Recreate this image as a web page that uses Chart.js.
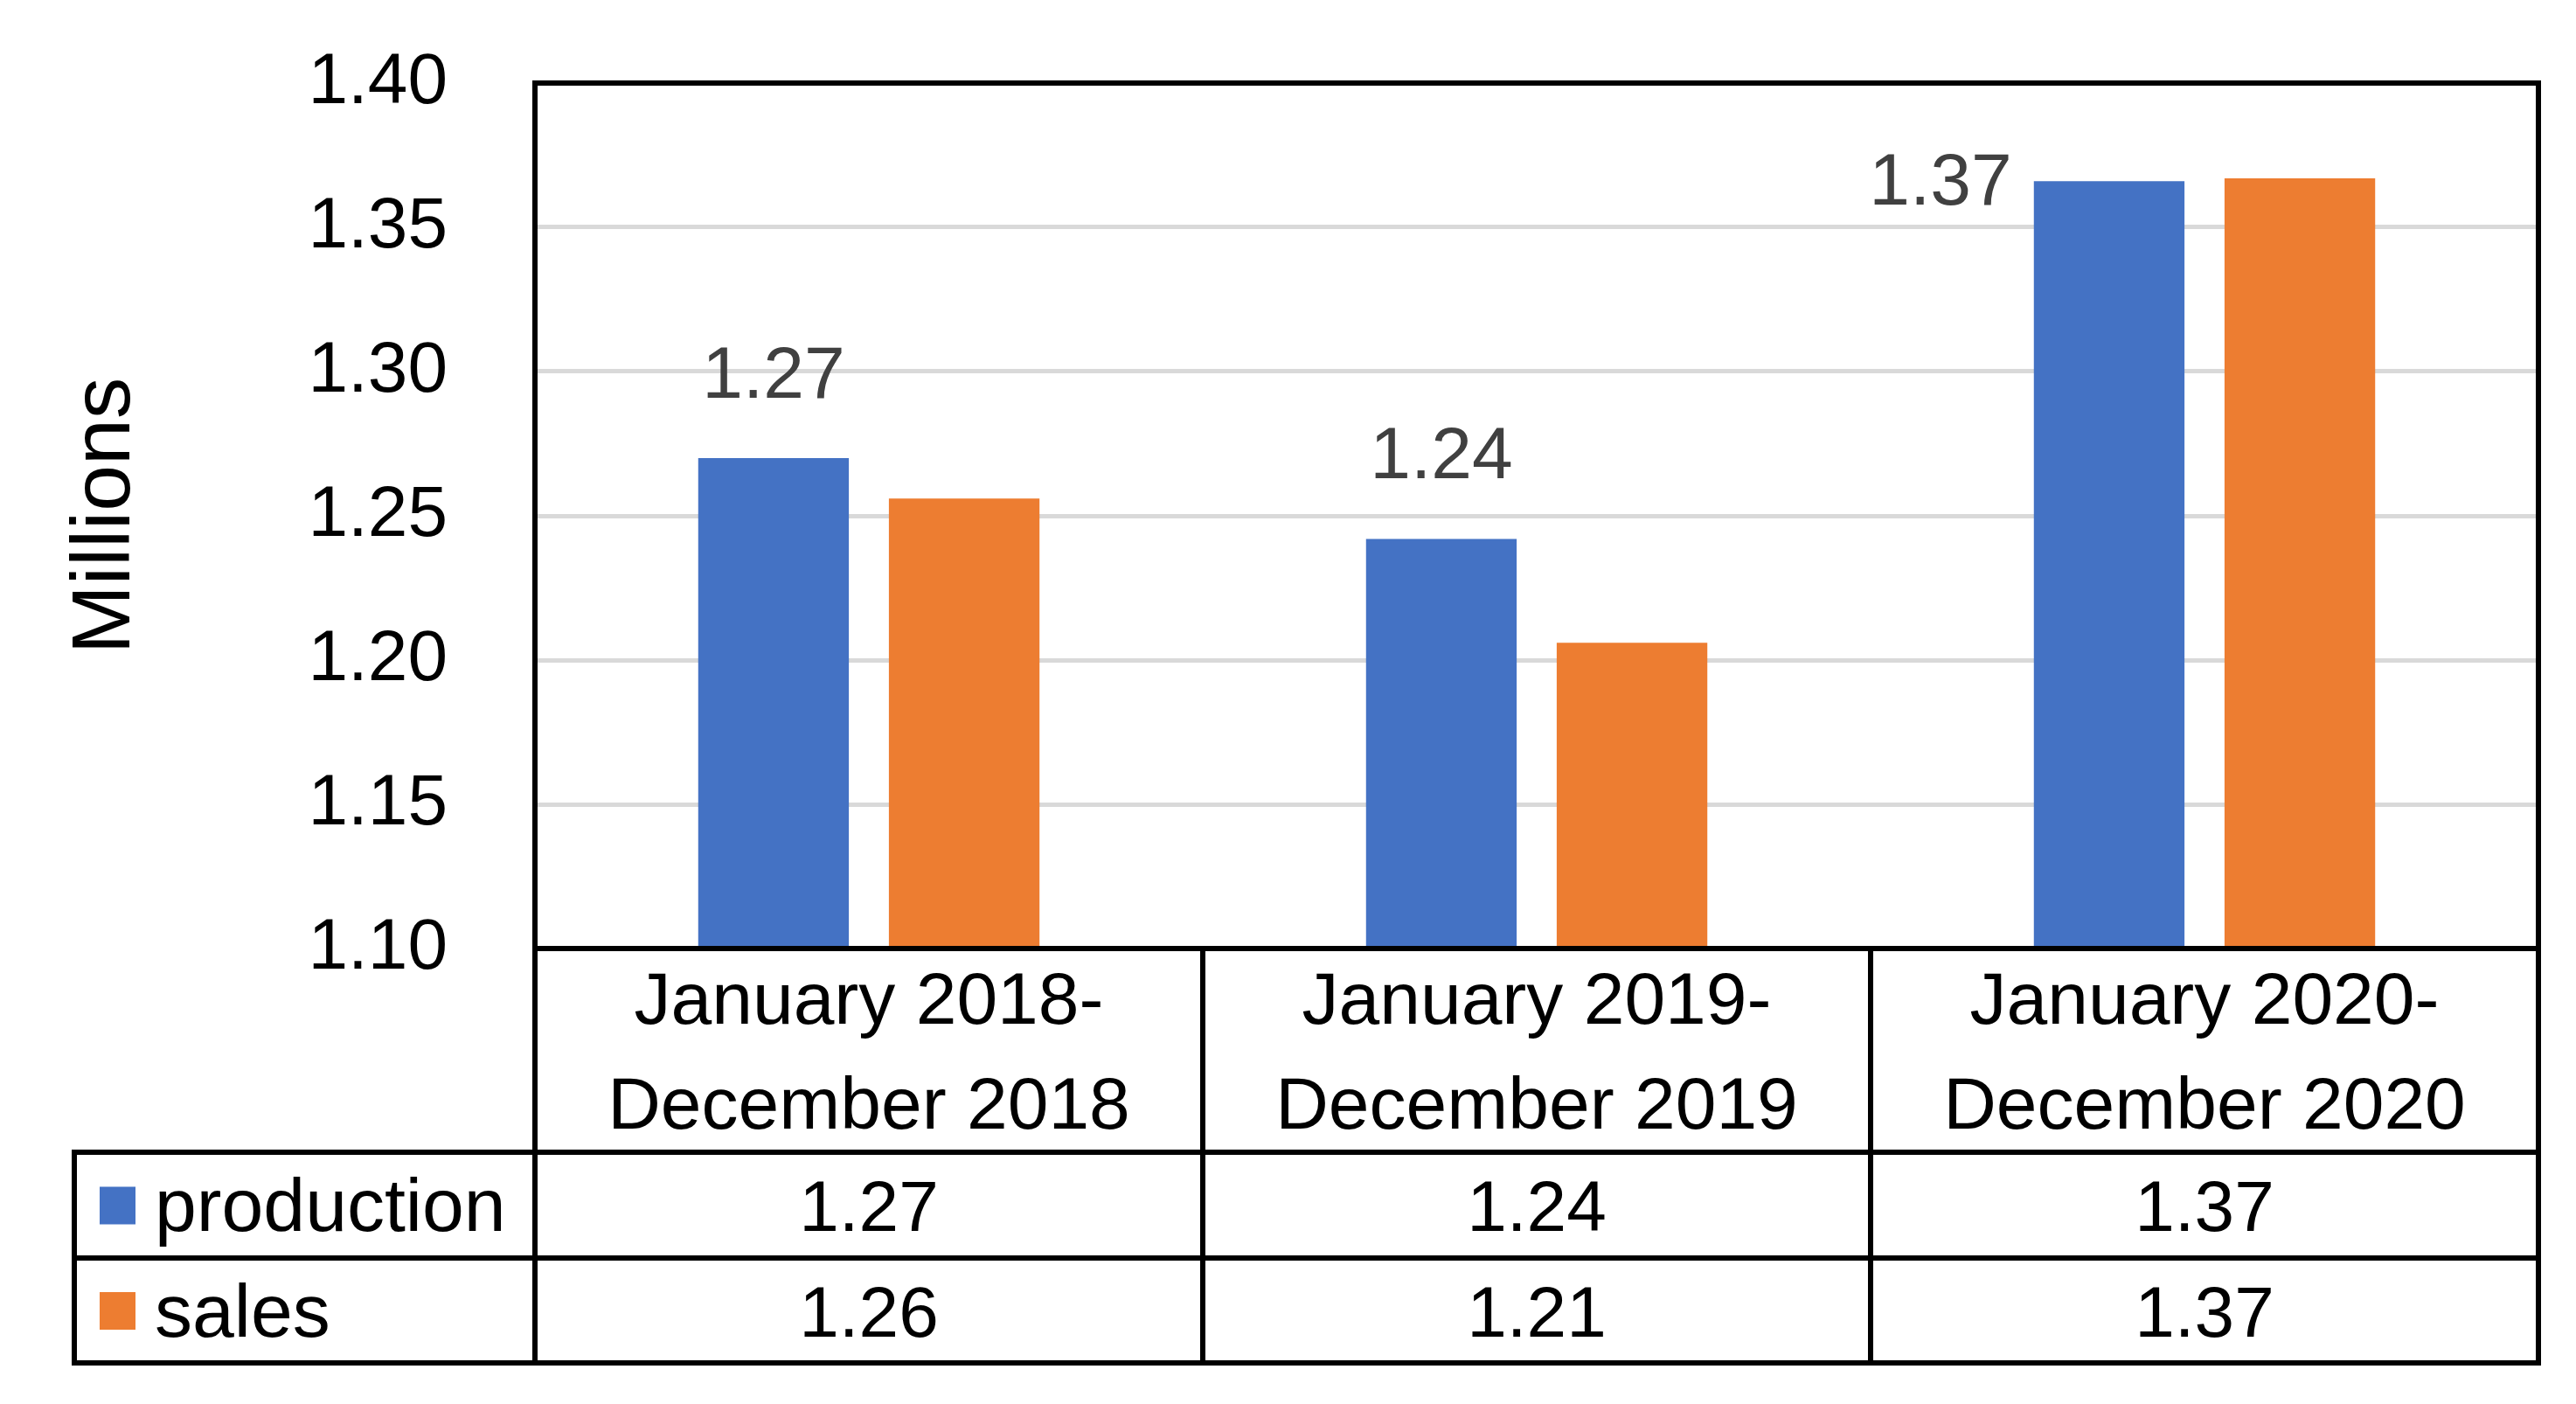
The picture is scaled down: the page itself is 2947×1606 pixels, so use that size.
<!DOCTYPE html>
<html>
<head>
<meta charset="utf-8">
<script src="https://cdn.jsdelivr.net/npm/chart.js@4.4.0/dist/chart.umd.min.js"></script>
<style>
    html, body { margin: 0; padding: 0; background: #fff; }
    canvas { display: block; }
</style>
</head>
<body>
<canvas id="myChart" width="2947" height="1606" style="width:2947px;height:1606px"></canvas>
<script>
// Datos
const periodos = [
    ['January 2018-', 'December 2018'],
    ['January 2019-', 'December 2019'],
    ['January 2020-', 'December 2020']
];
const produccion = [1.270, 1.242, 1.366];
const ventas = [1.256, 1.206, 1.367];
const nombresSeries = ['production', 'sales'];
const ticksY = [1.10, 1.15, 1.20, 1.25, 1.30, 1.35, 1.40];
const tituloY = 'Millions';

const colores = ['#4472C4', '#ED7D31'];
const fuente = '"Liberation Sans", Arial, sans-serif';

/* ETIQUETAS DE DATOS (solo production) */
const etiquetas = {
    id: 'etiquetas',
    afterDatasetsDraw(chart) {
        const ctx = chart.ctx;
        const area = chart.chartArea;
        const meta = chart.getDatasetMeta(0);
        ctx.save();
        ctx.font = '84px ' + fuente;
        ctx.fillStyle = '#404040';
        ctx.textBaseline = 'alphabetic';
        meta.data.forEach((barra, i) => {
            const texto = produccion[i].toFixed(2);
            const base = barra.y - 69;
            if (base - 60 < area.top) {
                // no cabe arriba, se pone a la izquierda de la barra
                ctx.textAlign = 'right';
                ctx.fillText(texto, barra.x - barra.width / 2 - 25, barra.y + 27);
            } else {
                ctx.textAlign = 'center';
                ctx.fillText(texto, barra.x, base);
            }
        });
        ctx.restore();
    }
};

/* BORDE, TITULO Y TABLA DE DATOS */
const tablaDatos = {
    id: 'tablaDatos',
    afterDraw(chart) {
        const ctx = chart.ctx;
        const area = chart.chartArea;
        const escalaX = chart.scales.x;
        const anchoCat = (area.right - area.left) / periodos.length;

        const yCat = area.bottom + 233;
        const yProd = yCat + 121;
        const yVentas = yProd + 120;
        const xTabla = 85;

        ctx.save();
        ctx.strokeStyle = '#000';
        ctx.lineWidth = 6;
        ctx.lineCap = 'square';

        // borde del area de la grafica
        ctx.strokeRect(area.left, area.top, area.right - area.left, area.bottom - area.top);

        const linea = (x1, y1, x2, y2) => {
            ctx.beginPath();
            ctx.moveTo(x1, y1);
            ctx.lineTo(x2, y2);
            ctx.stroke();
        };

        // lineas horizontales
        linea(area.left, yCat, area.right, yCat);
        linea(xTabla, yCat, area.left, yCat);
        linea(xTabla, yProd, area.right, yProd);
        linea(xTabla, yVentas, area.right, yVentas);

        // lineas verticales
        linea(xTabla, yCat, xTabla, yVentas);
        for (let i = 0; i <= periodos.length; i++) {
            const xc = area.left + anchoCat * i;
            linea(xc, area.bottom, xc, yVentas);
        }

        ctx.fillStyle = '#000';
        ctx.textBaseline = 'alphabetic';
        ctx.textAlign = 'center';
        const mitadCap = 29.5;

        // categorias
        ctx.font = '84px ' + fuente;
        const centroCat = (area.bottom + yCat) / 2;
        periodos.forEach((lineas, i) => {
            const xc = escalaX.getPixelForValue(i);
            ctx.fillText(lineas[0], xc, centroCat - 60 + mitadCap);
            ctx.fillText(lineas[1], xc, centroCat + 60 + mitadCap);
        });

        // valores
        const filas = [
            { serie: produccion, top: yCat, bottom: yProd },
            { serie: ventas, top: yProd, bottom: yVentas }
        ];
        filas.forEach((fila, s) => {
            const centro = (fila.top + fila.bottom) / 2;
            ctx.font = '82px ' + fuente;
            fila.serie.forEach((v, i) => {
                ctx.textAlign = 'center';
                ctx.fillText(v.toFixed(2), escalaX.getPixelForValue(i), centro + mitadCap);
            });
            // leyenda
            ctx.fillStyle = colores[s];
            ctx.fillRect(114, centro - 21, 41, 43);
            ctx.fillStyle = '#000';
            ctx.textAlign = 'left';
            ctx.font = '86px ' + fuente;
            ctx.fillText(nombresSeries[s], 177, centro + mitadCap);
        });

        // titulo del eje Y
        ctx.translate(148, (area.top + area.bottom) / 2);
        ctx.rotate(-Math.PI / 2);
        ctx.textAlign = 'center';
        ctx.font = '95px ' + fuente;
        ctx.fillText(tituloY, 0, 0);

        ctx.restore();
    }
};

document.addEventListener('DOMContentLoaded', function () {
    const canvas = document.getElementById('myChart');
    new Chart(canvas, {
        type: 'bar',
        data: {
            labels: periodos,
            datasets: [{
                label: nombresSeries[0],
                data: produccion,
                backgroundColor: colores[0],
                categoryPercentage: 0.571,
                barPercentage: 0.79
            }, {
                label: nombresSeries[1],
                data: ventas,
                backgroundColor: colores[1],
                categoryPercentage: 0.571,
                barPercentage: 0.79
            }]
        },
        options: {
            responsive: false,
            animation: false,
            devicePixelRatio: 1,
            layout: {
                padding: { top: 95, right: 43, bottom: 521, left: 0 }
            },
            plugins: {
                legend: { display: false },
                tooltip: { enabled: false }
            },
            scales: {
                x: {
                    display: false
                },
                y: {
                    min: ticksY[0],
                    max: ticksY[ticksY.length - 1],
                    afterFit: function (scale) {
                        scale.width = 612;
                        scale.paddingTop = 0;
                        scale.paddingBottom = 0;
                    },
                    afterBuildTicks: function (scale) {
                        scale.ticks = ticksY.map(v => ({ value: v }));
                    },
                    grid: { color: '#d9d9d9', lineWidth: 5, drawTicks: false },
                    border: { display: false },
                    ticks: {
                        padding: 100,
                        color: '#000',
                        font: { family: fuente, size: 82 },
                        callback: function (v) { return Number(v).toFixed(2); }
                    }
                }
            }
        },
        plugins: [etiquetas, tablaDatos]
    });
});
</script>
</body>
</html>
